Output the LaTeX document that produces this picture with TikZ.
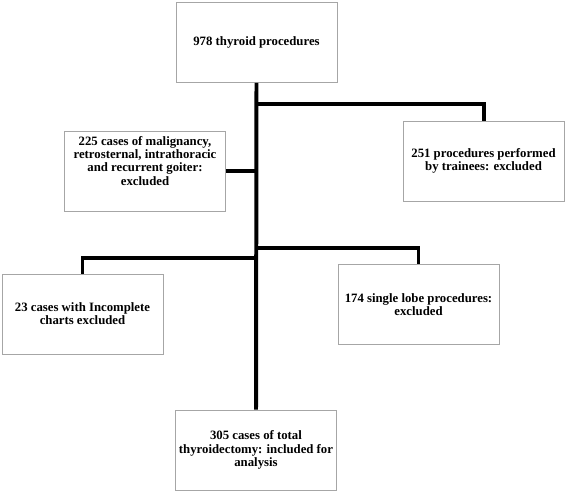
\documentclass[tikz,border=0pt]{standalone}
\usepackage{fontspec}
\setmainfont{Liberation Serif}
\usepackage{tikz}

\begin{document}
\begin{tikzpicture}[x=0.03cm, y=-0.03cm,
    every node/.style={draw=black!35, line width=0.8pt, fill=white,
      minimum width=4.83cm, minimum height=2.4cm, align=center,
      font=\fontsize{10.9}{11.3}\selectfont\bfseries},
    link/.style={line width=3.4pt}]
      \useasboundingbox (0,0) rectangle (567,493);
      % boxes
      \node (1) at (256.5,42.5) {978 thyroid procedures};
      \node (2) at (483.5,161) {251 procedures performed\\by trainees: excluded};
      \node[text depth=0.62cm] (3) at (145,171) {225 cases of malignancy,\\retrosternal, intrathoracic\\and recurrent goiter:\\excluded};
      \node (4) at (82.5,314) {23 cases with Incomplete\\charts excluded};
      \node (5) at (418.5,304.5) {174 single lobe procedures:\\excluded};
      \node (6) at (256,450) {305 cases of total\\thyroidectomy: included for\\analysis};

      % branch points on the trunk
      \coordinate (a) at (257,104);
      \coordinate (b) at (257,171);
      \coordinate (c) at (257,248);
      \coordinate (d) at (257,258);

      \draw[link] (1.south)--(6.north);
      \draw[link] (a)-|(2.north);
      \draw[link] (3.east)--(b);
      \draw[link] (c)-|(5.north);
      \draw[link] (d)-|(4.north);
\end{tikzpicture}
\end{document}
